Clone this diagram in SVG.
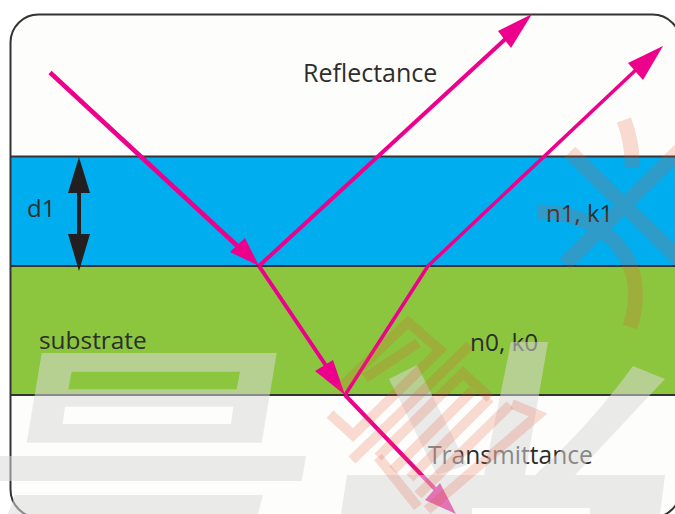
<svg xmlns="http://www.w3.org/2000/svg" width="675" height="514" viewBox="0 0 675 514">
<style>
.edge{stroke:#333;stroke-width:2;fill:none}
.ray{stroke:#ec008c;fill:none;stroke-linejoin:miter}
.head{fill:#ec008c}
.lbl{font-family:"Open Sans","Noto Sans",sans-serif;font-size:24px;fill:#2d2d2d}
.grey{fill:#d9d9d9;fill-opacity:.53;fill-rule:evenodd}
.red{stroke:#e8502f;stroke-opacity:.2;fill:none}
</style>
<defs><clipPath id="panelClip"><rect x="10.5" y="14.5" width="670" height="503" rx="28"/></clipPath></defs>
<rect width="675" height="514" fill="#fff"/>
<g id="panel">
<rect x="10.5" y="14.5" width="670" height="503" rx="28" fill="#fdfdfb"/>
<g clip-path="url(#panelClip)">
<rect id="film" x="10" y="156" width="672" height="110" fill="#00aeef"/>
<rect id="substrate" x="10" y="266" width="672" height="129" fill="#8cc63f"/>
</g>
<path class="edge" d="M10.5 156.500H680M10.500 266H680M10.500 395H680"/>
<rect class="edge" x="10.5" y="14.500" width="670" height="503" rx="28"/>
</g>
<g id="connectors">
<path class="ray" stroke-width="4.500" d="M50 72.500L245 253"/>
<path class="head" d="M259 266L245 238L230 252Z"/>
<path class="ray" stroke-width="4" d="M259 266L512 33"/>
<path class="head" d="M532 14L498 31L511 48Z"/>
<path class="ray" stroke-width="4" d="M259 266L333 376"/>
<path class="head" d="M345 395L333 360L315 371Z"/>
<path class="ray" stroke-width="3.500" d="M345 395L428 266L640 66"/>
<path class="head" d="M663 46L628 63L643 80Z"/>
<path class="ray" stroke-width="4" d="M345 395L436 490"/>
<path class="head" d="M456 514L440 483L425 500Z"/>
<path stroke="#231f20" stroke-width="4" d="M79 185V240"/>
<path fill="#231f20" d="M79 157L90 193H68ZM79 271L90 234H68Z"/>
</g>
<g id="labels">
<text class="lbl" x="303" y="82" style="font-size:25px">Reflectance</text>
<text class="lbl" x="27" y="217">d1</text>
<text class="lbl" x="546" y="222">n1, k1</text>
<text class="lbl" x="39" y="349" style="font-size:24.400px">substrate</text>
<text class="lbl" x="470" y="351" style="font-size:24.400px">n0, k0</text>
<text class="lbl" x="428" y="464" style="font-size:24.600px">Transmittance</text>
</g>
<g id="overlay">
<path class="grey" d="M41.700 353H276.700L261.700 442.700H26.700ZM71.700 371.700H240L236.700 389.300H68.300ZM65 406.700H233.300L231 424H62.700Z"/>
<path class="grey" d="M0 456H306L301.700 481H0ZM15 495H263L258 514H8Z"/>
<path class="grey" d="M389 379L417 365L467 465L437 475ZM511 342H548L525 475H484ZM633 366L665 379L575 475H535Q590 425 633 366Z"/>
<path class="grey" d="M347 475H665L660 514H590V508H472V514H341Z"/>
<g class="red" stroke-width="10" stroke-linejoin="miter">
<path d="M338 390L408 322L440 350L353 435L330 414"/>
<path d="M365 378L418 343"/>
<path d="M352 460L470 345"/>
<path d="M378 457L463 373L490 398"/>
<path d="M378 457L418 507"/>
<path d="M393 470L473 390"/>
<path d="M410 478L490 398"/>
<path d="M418 495L510 405"/>
<path d="M427 510L538 415L512 404"/>
</g>
<path class="red" stroke-width="15" d="M570 152L680 260M680 150L565 264M538 212C590 210 655 250 630 327M624 120Q633 145 632 167"/>
</g>
</svg>
